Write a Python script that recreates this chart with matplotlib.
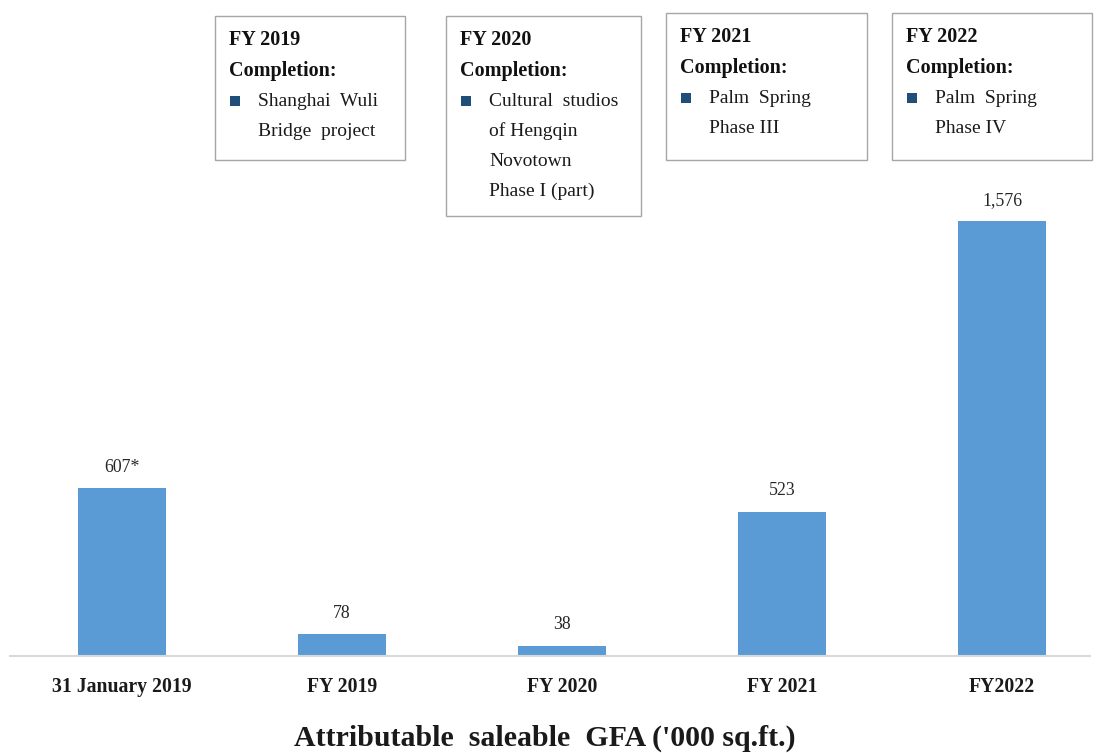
import matplotlib.pyplot as plt
from matplotlib.patches import Rectangle

categories = ['31 January 2019', 'FY 2019', 'FY 2020', 'FY 2021', 'FY2022']
values = [607, 78, 38, 523, 1576]
value_labels = ['607*', '78', '38', '523', '1,576']

box_titles = ['FY 2019', 'FY 2020', 'FY 2021', 'FY 2022']
box_items = [
    ['Shanghai  Wuli', 'Bridge  project'],
    ['Cultural  studios', 'of Hengqin', 'Novotown', 'Phase I (part)'],
    ['Palm  Spring', 'Phase III'],
    ['Palm  Spring', 'Phase IV'],
]

plt.rcParams['font.family'] = ['Liberation Serif', 'DejaVu Serif']

W, H = 1096, 753
fig = plt.figure(figsize=(W / 100, H / 100), dpi=100)

# main bar axes
ax = fig.add_axes([10 / W, (H - 656) / H, 1080 / W, 656 / H])
x = range(len(categories))
ax.bar(x, values, width=0.4, color='#5b9bd5')
for i, v in enumerate(values):
    ax.text(i, v + 45, value_labels[i], ha='center', va='bottom', fontsize=12.8, color='#262626')
ax.set_xlim(-0.51, 4.4)
ax.set_ylim(0, 2377)
for s in ['top', 'right', 'left']:
    ax.spines[s].set_visible(False)
ax.spines['bottom'].set_color('#d9d9d9')
ax.spines['bottom'].set_linewidth(1.5)
ax.set_yticks([])
ax.set_xticks(list(x))
ax.set_xticklabels(categories, fontsize=14.2, fontweight='bold', color='#1a1a1a')
ax.tick_params(axis='x', length=0, pad=15)

fig.text(545 / W, 1 - 738 / H, "Attributable  saleable  GFA ('000 sq.ft.)",
         ha='center', va='center', fontsize=21.5, fontweight='bold', color='#1a1a1a')

# annotation boxes in pixel space
ov = fig.add_axes([0, 0, 1, 1], facecolor='none')
ov.set_xlim(0, W)
ov.set_ylim(H, 0)
ov.axis('off')

boxes = [(215, 16, 190, 144), (446, 16, 195, 200), (666, 13, 201, 147), (892, 13, 200, 147)]
for (bx, by, bw, bh), title, items in zip(boxes, box_titles, box_items):
    ov.add_patch(Rectangle((bx, by), bw, bh, facecolor='white', edgecolor='#a6a6a6', lw=1))
    ty = by + 24
    ov.text(bx + 14, ty, title, fontsize=14.5, fontweight='bold', va='center', color='#111111')
    ov.text(bx + 14, ty + 31, 'Completion:', fontsize=14.5, fontweight='bold', va='center', color='#111111')
    ov.add_patch(Rectangle((bx + 15, ty + 56), 10, 10, facecolor='#1f4e79', edgecolor='none'))
    for k, line in enumerate(items):
        ov.text(bx + 43, ty + 61 + 30 * k, line, fontsize=14, va='center', color='#1a1a1a')

fig.savefig('out.png', dpi=100)
